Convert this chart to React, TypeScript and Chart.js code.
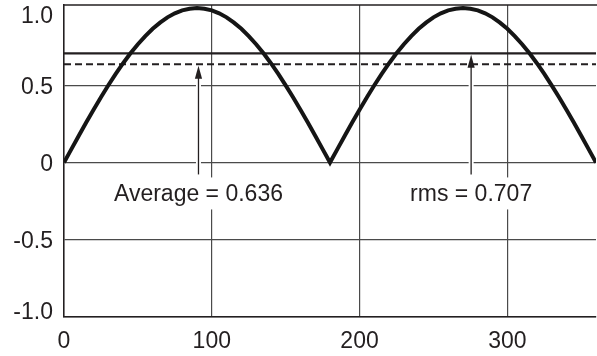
import React, { useEffect, useRef } from "react";
import { Chart, registerables } from "chart.js";

Chart.register(...registerables);

// Angle in degrees (x) and rectified sine amplitude (y)
const angles = [
  0, 5, 10, 15, 20, 25, 30, 35, 40, 45, 50, 55, 60, 65, 70, 75, 80, 85, 90,
  95, 100, 105, 110, 115, 120, 125, 130, 135, 140, 145, 150, 155, 160, 165, 170, 175, 180,
  185, 190, 195, 200, 205, 210, 215, 220, 225, 230, 235, 240, 245, 250, 255, 260, 265, 270,
  275, 280, 285, 290, 295, 300, 305, 310, 315, 320, 325, 330, 335, 340, 345, 350, 355, 360,
];
const waveValues = [
  0, 0.087, 0.174, 0.259, 0.342, 0.423, 0.5, 0.574, 0.643, 0.707, 0.766, 0.819, 0.866, 0.906, 0.94, 0.966, 0.985, 0.996, 1.0,
  0.996, 0.985, 0.966, 0.94, 0.906, 0.866, 0.819, 0.766, 0.707, 0.643, 0.574, 0.5, 0.423, 0.342, 0.259, 0.174, 0.087, 0,
  0.087, 0.174, 0.259, 0.342, 0.423, 0.5, 0.574, 0.643, 0.707, 0.766, 0.819, 0.866, 0.906, 0.94, 0.966, 0.985, 0.996, 1.0,
  0.996, 0.985, 0.966, 0.94, 0.906, 0.866, 0.819, 0.766, 0.707, 0.643, 0.574, 0.5, 0.423, 0.342, 0.259, 0.174, 0.087, 0,
];
const rmsValue = 0.707;
const averageValue = 0.636;

const xTicks = [0, 100, 200, 300];
const yTicks = [-1, -0.5, 0, 0.5, 1];
const yTickLabels = ["-1.0", "-0.5", "0", "0.5", "1.0"];

const annotationLabels = ["Average = 0.636", "rms = 0.707"];
const annotationAngles = [91, 275.5];
const annotationTargets = [averageValue, rmsValue];
const annotationTextValue = -0.2;

const INK = "#231f20";
const GRID = "#4a4a4a";
const FONT_FAMILY = "'Liberation Sans', Arial, Helvetica, sans-serif";
const FONT_SIZE = 23;

const annotationPlugin = {
  id: "annotations",
  beforeDatasetsDraw(chart: any) {
    const { ctx, chartArea, scales } = chart;
    const x = scales.x;
    const y = scales.y;
    ctx.save();
    ctx.strokeStyle = INK;
    ctx.lineWidth = 1.5;
    ctx.beginPath();
    ctx.moveTo(chartArea.left - 0.75, chartArea.top);
    ctx.lineTo(chartArea.right + 1, chartArea.top);
    ctx.stroke();
    ctx.font = `${FONT_SIZE}px ${FONT_FAMILY}`;
    ctx.fillStyle = "#ffffff";
    annotationLabels.forEach((label, i) => {
      const px = x.getPixelForValue(annotationAngles[i]);
      const ty = y.getPixelForValue(annotationTextValue);
      const w = ctx.measureText(label).width;
      ctx.fillRect(px - w / 2 - 4, ty - 16, w + 8, 32);
      const tip = y.getPixelForValue(annotationTargets[i]) + 14;
      ctx.fillRect(px - 2.5, tip, 5, ty - 16 - tip);
    });
    ctx.restore();
  },
  afterDatasetsDraw(chart: any) {
    const { ctx, scales } = chart;
    const x = scales.x;
    const y = scales.y;
    ctx.save();
    ctx.font = `${FONT_SIZE}px ${FONT_FAMILY}`;
    ctx.textAlign = "center";
    ctx.textBaseline = "middle";
    annotationLabels.forEach((label, i) => {
      const px = x.getPixelForValue(annotationAngles[i]);
      const ty = y.getPixelForValue(annotationTextValue);
      ctx.fillStyle = INK;
      ctx.fillText(label, px, ty + 1);
      const tip = y.getPixelForValue(annotationTargets[i]) + 1.5;
      const bottom = ty - 19;
      ctx.strokeStyle = INK;
      ctx.lineWidth = 1.3;
      ctx.beginPath();
      ctx.moveTo(px, bottom);
      ctx.lineTo(px, tip + 10);
      ctx.stroke();
      ctx.beginPath();
      ctx.moveTo(px, tip);
      ctx.lineTo(px - 3.6, tip + 13);
      ctx.lineTo(px + 3.6, tip + 13);
      ctx.closePath();
      ctx.fill();
    });
    ctx.restore();
  },
  afterDraw(chart: any) {
    const { ctx, chartArea, scales } = chart;
    const y = scales.y;
    ctx.save();
    ctx.font = `${FONT_SIZE}px ${FONT_FAMILY}`;
    ctx.fillStyle = INK;
    ctx.textAlign = "right";
    ctx.textBaseline = "middle";
    yTicks.forEach((v, i) => {
      let py = y.getPixelForValue(v);
      py = Math.max(py + 2, chartArea.top + 12);
      py = Math.min(py, chartArea.bottom - 4);
      ctx.fillText(yTickLabels[i], chartArea.left - 11, py);
    });
    ctx.restore();
  },
};

export default function App() {
  const canvasRef = useRef<HTMLCanvasElement | null>(null);

  useEffect(() => {
    const canvas = canvasRef.current;
    if (!canvas) return;
    const points = angles.map((a, i) => ({ x: a, y: waveValues[i] }));
    const chart = new Chart(canvas, {
      type: "line",
      data: {
        datasets: [
          {
            label: "|sin|",
            data: points,
            borderColor: "#151515",
            borderWidth: 4,
            pointRadius: 0,
            tension: 0,
            borderJoinStyle: "miter",
            fill: false,
          },
          {
            label: "rms",
            data: [
              { x: 0, y: rmsValue },
              { x: 360, y: rmsValue },
            ],
            borderColor: INK,
            borderWidth: 2.2,
            pointRadius: 0,
            fill: false,
          },
          {
            label: "average",
            data: [
              { x: 0, y: averageValue },
              { x: 360, y: averageValue },
            ],
            borderColor: INK,
            borderWidth: 2,
            borderDash: [7, 4],
            pointRadius: 0,
            fill: false,
          },
        ],
      },
      options: {
        responsive: false,
        devicePixelRatio: 1,
        animation: false,
        events: [],
        layout: { padding: { top: 5, right: 1, left: 0, bottom: 0 } },
        plugins: {
          legend: { display: false },
          tooltip: { enabled: false },
        },
        scales: {
          x: {
            type: "linear",
            min: 0,
            max: 360,
            afterBuildTicks: (scale: any) => {
              scale.ticks = xTicks.map((v) => ({ value: v }));
            },
            afterFit: (scale: any) => {
              scale.height = 39;
              scale.paddingLeft = 0;
              scale.paddingRight = 0;
            },
            grid: {
              color: GRID,
              lineWidth: 1.2,
              drawTicks: false,
            },
            border: { display: true, color: INK, width: 1.5 },
            ticks: {
              padding: 11,
              color: INK,
              font: { family: FONT_FAMILY, size: FONT_SIZE },
              maxRotation: 0,
              callback: (v: any) => String(v),
            },
          },
          y: {
            type: "linear",
            min: -1,
            max: 1.02,
            afterBuildTicks: (scale: any) => {
              scale.ticks = yTicks.map((v) => ({ value: v }));
            },
            afterFit: (scale: any) => {
              scale.width = 64;
              scale.paddingTop = 0;
              scale.paddingBottom = 0;
            },
            grid: {
              color: (c: any) => (c.tick && c.tick.value === 1 ? "rgba(0,0,0,0)" : GRID),
              lineWidth: 1.2,
              drawTicks: false,
            },
            border: { display: true, color: INK, width: 1.5 },
            ticks: { display: false },
          },
        },
      },
      plugins: [annotationPlugin],
    });
    return () => chart.destroy();
  }, []);

  return (
    <canvas
      ref={canvasRef}
      width={597}
      height={356}
      style={{ position: "absolute", left: 0, top: 0, display: "block", width: 597, height: 356 }}
    />
  );
}
